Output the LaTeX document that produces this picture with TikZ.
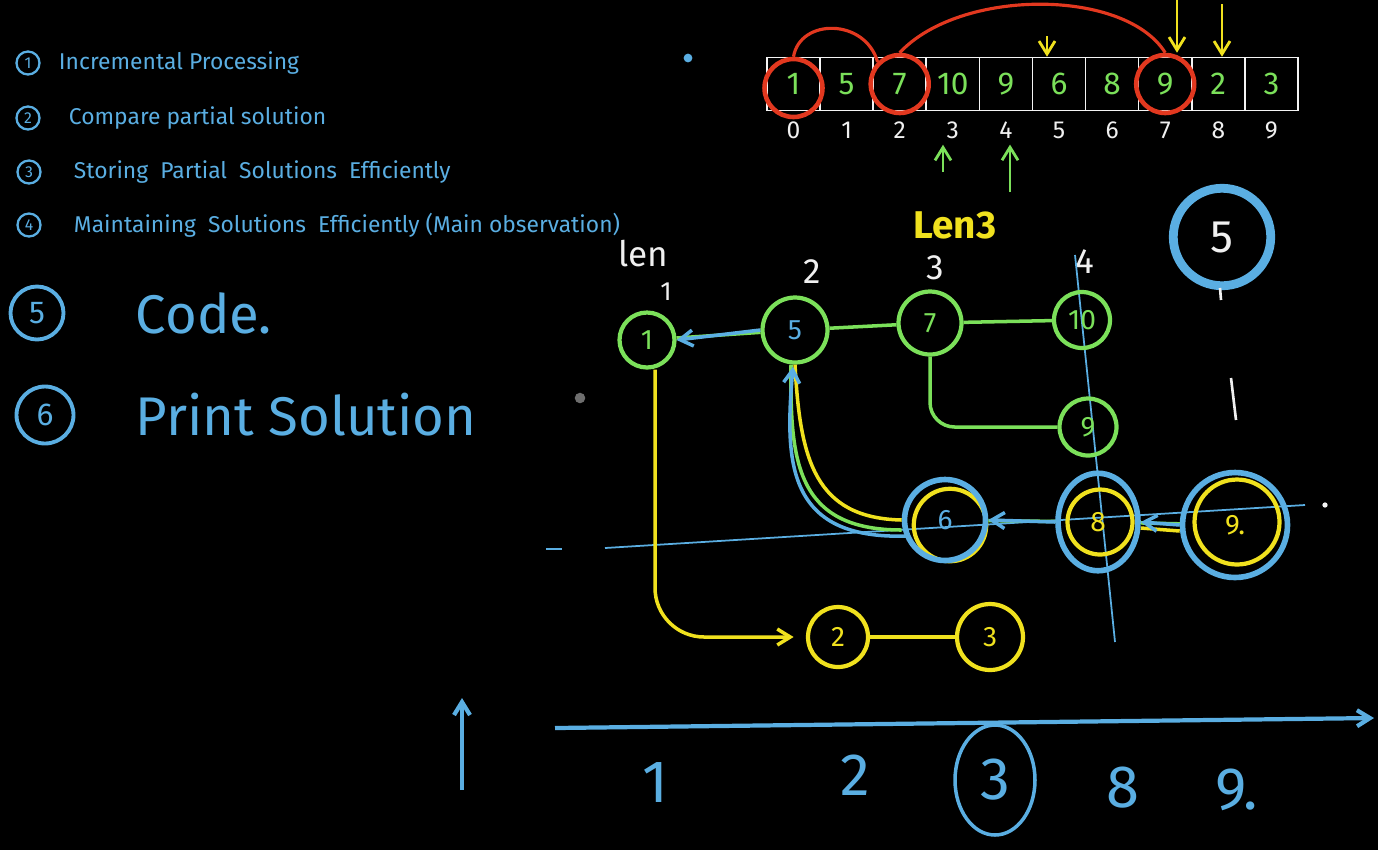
\documentclass[tikz,border=0pt]{standalone}
\usepackage{fontspec}
\setmainfont{Fira Sans}
\usepackage{tikz}
\usetikzlibrary{arrows.meta,positioning,calc,shapes.geometric}
\definecolor{Board}{HTML}{000000}
\definecolor{Sky}{HTML}{5AAEE2}
\definecolor{Lime}{HTML}{7BE05A}
\definecolor{Lemon}{HTML}{F0E11E}
\definecolor{Fire}{HTML}{E2381F}
\definecolor{Chalk}{HTML}{F0F0F0}
\definecolor{Ash}{HTML}{6E6E6E}

\begin{document}
\begin{tikzpicture}[x=0.02cm,y=-0.02cm,
    note/.style={text=Sky,inner sep=0pt,font=\fontsize{13}{15}\selectfont},
    tag/.style={circle,draw=Sky,line width=1.3pt,inner sep=0pt,minimum size=0.46cm,text=Sky,font=\fontsize{9}{10}\selectfont},
    bigtag/.style={tag,line width=2.2pt,minimum size=1.06cm,font=\fontsize{18}{20}\selectfont},
    bignote/.style={text=Sky,inner sep=0pt,font=\fontsize{31}{34}\selectfont},
    cell/.style={draw=Chalk!75,line width=0.9pt,minimum width=1.062cm,minimum height=1.06cm,inner sep=0pt,text=Lime,font=\fontsize{18}{20}\selectfont},
    idx/.style={text=Chalk,font=\fontsize{14}{16}\selectfont},
    ring/.style={circle,draw=Fire,line width=2.6pt,minimum size=1.16cm,inner sep=0pt},
    vtx/.style={circle,draw=Lime,line width=2.4pt,inner sep=0pt,minimum size=1.1cm,text=Lime,font=\fontsize{16}{18}\selectfont},
    yvtx/.style={vtx,draw=Lemon,text=Lemon},
    bvtx/.style={vtx,draw=Sky,line width=3.2pt},
    lab/.style={text=Chalk,font=\fontsize{20}{22}\selectfont},
    arr/.style={-{Straight Barb[length=2.6mm,width=3.2mm]},line width=2pt},
    axnum/.style={text=Sky,font=\fontsize{34}{38}\selectfont}
  ]
  \useasboundingbox (0,0) rectangle (1378,850);
  \fill[Board] (0,0) rectangle (1378,850);

  % the list on the left
  \node[tag] (k1) at (28,63) {1};
  \node[note,right=3.6mm of k1] (t1) {Incremental Processing};
  \node[tag] (k2) at (28,118) {2};
  \node[note,right=5.6mm of k2] (t2) {Compare partial solution};
  \node[tag] (k3) at (29,172) {3};
  \node[note,right=6.4mm of k3] (t3) {Storing\ \ Partial\ \ Solutions\ \ Efficiently};
  \node[tag] (k4) at (29,225) {4};
  \node[note,right=6.4mm of k4] (t4) {Maintaining\ \ Solutions\ \ Efficiently (Main observation)};
  \node[bigtag] (k5) at (37,313) {5};
  \node[bignote,right=14mm of k5] (t5) {Code.};
  \node[bigtag,minimum size=1.14cm] (k6) at (45,415) {6};
  \node[bignote,right=12mm of k6] (t6) {Print Solution};
  \fill[Sky] (688,58) circle (2.5pt);
  \fill[Ash] (580,398) circle (3pt);

  % the array
  \foreach \v [count=\i from 0] in {1,5,7,10,9,6,8,9,2,3}{
    \node[cell] (c\i) at ({793.5+53.1*\i},84) {\v};
    \node[idx] (i\i) at ({793.5+53.1*\i},130) {\i};
  }
  \node[ring] (r0) at ($(c0)+(0,4)$) {};
  \node[ring] (r2) at (c2) {};
  \node[ring] (r7) at (c7) {};
  \draw[Fire,line width=1.8pt] (r0.north) .. controls (800,18) and (865,18) .. (r2.north west);
  \draw[Fire,line width=1.8pt] (r2.north) .. controls (960,-12) and (1125,-12) .. (r7.north);
  \coordinate (ya) at (1047,36);
  \coordinate (yb) at (1177,0);
  \coordinate (yc) at (1222,4);
  \draw[Lemon,arr,line width=1.6pt] (ya) -- (ya |- c5.north);
  \draw[Lemon,arr,line width=1.6pt] (yb) -- (yb |- r7.north);
  \draw[Lemon,arr,line width=1.6pt] (yc) -- (yc |- c8.north);
  \coordinate (ga) at (943,172);
  \coordinate (gb) at (1010,192);
  \draw[Lime,arr,line width=1.6pt] (ga) -- (ga |- i3.south);
  \draw[Lime,arr,line width=1.6pt] (gb) -- (gb |- i4.south);

  % lengths
  \node[lab] (len) at (643,254) {len};
  \node[lab,font=\fontsize{15}{16}\selectfont] (h1) at (666,292) {1};
  \node[lab] (h2) at (812,272) {2};
  \node[lab] (h3) at (935,268) {3};
  \node[lab] (h4) at (1085,262) {4};
  \node[text=Lemon,font=\fontsize{22}{24}\selectfont\bfseries] (len3) at (955,225) {Len3};
  \node[circle,draw=Sky,line width=5pt,minimum size=1.95cm,text=Chalk,font=\fontsize{26}{28}\selectfont] (top5) at (1222,237) {5};
  \draw[Chalk,line width=1.5pt] (1220,288) -- (1221,300);
  \draw[Chalk,line width=1.5pt] (1231,378) -- (1236,420);

  % thin guide lines
  \draw[Sky,line width=1pt] (605,548) -- (1305,505);
  \draw[Sky,line width=1pt] (546,549) -- (562,549);
  \draw[Sky,line width=1pt] (1075,255) -- (1115,642);
  \fill[Chalk!70] (1325,505) circle (1.5pt);

  % first row
  \node[vtx] (v1) at (647,340) {1};
  \node[vtx,minimum size=1.3cm,text=Sky] (v5) at (795,330) {5};
  \node[vtx,minimum size=1.26cm] (v7) at (930,323) {7};
  \node[vtx,minimum size=1.12cm] (v10) at (1082,320) {10};
  \node[vtx,minimum size=1.14cm] (v9) at (1088,427) {9};
  \draw[Lime,line width=2pt] (v5) -- (v7);
  \draw[Lime,line width=2pt] (v7) -- (v10);
  \draw[Lime,line width=2pt,rounded corners=14pt] (v7.south) |- (v9.west);
  \draw[Lime,line width=2pt] (v5) -- (v1);
  \draw[Sky,arr] (v5.west) -- (v1.east);

  % second row
  \node[circle,draw=Lemon,line width=2.4pt,minimum size=1.45cm] (v6y) at (950,525) {};
  \node[bvtx,minimum size=1.62cm,text=Sky] (v6) at (945,520) {6};
  \node[circle,draw=Lemon,line width=2.4pt,minimum size=1.3cm] (v8y) at (1100,522) {};
  \node[ellipse,draw=Sky,line width=3.2pt,minimum width=1.6cm,minimum height=1.95cm,text=Lemon,font=\fontsize{16}{18}\selectfont] (v8) at (1098,522) {8};
  \node[circle,draw=Lemon,line width=2.4pt,minimum size=1.7cm] (v9y) at (1237,522) {};
  \node[bvtx,minimum size=2.1cm,text=Lemon] (v9b) at (1235,525) {9.};
  \draw[Lime,line width=2pt] (v9b) -- (v8);
  \draw[Lemon,line width=2pt] ($(v9b.west)+(0,6)$) -- ($(v8.east)+(0,6)$);
  \draw[Sky,arr] (v9b.west) -- (v8.east);
  \draw[Lime,line width=2pt] (v8) -- (v6);
  \draw[Sky,arr] (v8.west) -- (v6.east);
  \draw[Lemon,line width=2pt] (v6.west) .. controls (815,518) and (800,460) .. (v5.south);
  \draw[Lime,line width=2pt] ($(v6.west)+(0,10)$) .. controls (795,530) and (790,460) .. ($(v5.south)+(-4,0)$);
  \draw[Sky,arr] ($(v6.west)+(5,16)$) .. controls (785,540) and (785,460) .. ($(v5.south)+(-2,2)$);

  % yellow branch
  \node[yvtx,minimum size=1.2cm] (y2) at (838,637) {2};
  \node[yvtx,minimum size=1.32cm] (y3) at (990,637) {3};
  \draw[Lemon,line width=2pt] (y2) -- (y3);
  \draw[Lemon,arr,rounded corners=28pt,shorten >=7pt] ($(v1.south)+(8,0)$) |- (y2.west);

  % answer line
  \coordinate (ax0) at (555,728);
  \coordinate (ax1) at (1374,718);
  \coordinate (up0) at (462,790);
  \coordinate (up1) at (462,698);
  \draw[Sky,arr,line width=2.4pt] (ax0) -- (ax1);
  \draw[Sky,arr,line width=2.4pt] (up0) -- (up1);
  \node[axnum] (b1) at (655,782) {1};
  \node[axnum] (b2) at (855,775) {2};
  \node[axnum] (b3) at (995,780) {3};
  \node[ellipse,draw=Sky,line width=2pt,minimum width=1.6cm,minimum height=2.2cm] (b3ring) at (995,780) {};
  \node[axnum] (b8) at (1123,788) {8};
  \node[axnum] (b9) at (1237,790) {9.};
\end{tikzpicture}
\end{document}
